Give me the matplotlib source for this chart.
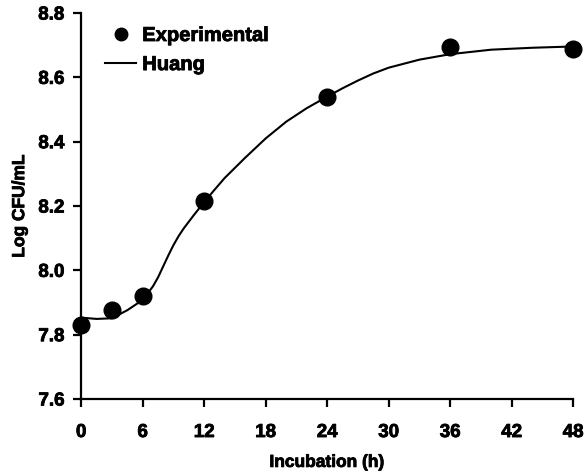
import matplotlib
matplotlib.use("Agg")
import matplotlib.pyplot as plt
import matplotlib.patheffects as pe

plt.rcParams['font.family'] = ['Liberation Sans', 'DejaVu Sans']
plt.rcParams['font.weight'] = 'bold'

# experimental points
exp_time = [0, 3, 6, 12, 24, 36, 48]
exp_logcfu = [7.830, 7.878, 7.921, 8.215, 8.538, 8.695, 8.688]

# Huang model curve
fit_time = [0, 1.5, 3, 4.5, 6, 7, 7.5, 8, 8.5, 9, 9.5, 10, 11, 12, 13, 14, 16,
            18, 20, 22, 24, 25.5, 27, 28.5, 30, 33, 36, 40, 44, 48]
fit_logcfu = [7.853, 7.849, 7.851, 7.876, 7.908, 7.950, 7.978, 8.012, 8.046,
              8.078, 8.106, 8.130, 8.172, 8.212, 8.250, 8.287, 8.350,
              8.410, 8.462, 8.504, 8.540, 8.566, 8.590, 8.612, 8.630,
              8.655, 8.672, 8.686, 8.692, 8.696]

xticks = [0, 6, 12, 18, 24, 30, 36, 42, 48]
yticks = [7.6, 7.8, 8.0, 8.2, 8.4, 8.6, 8.8]

heavy = [pe.withStroke(linewidth=0.6, foreground='black')]

fig = plt.figure(figsize=(5.88, 4.77), dpi=100)
ax = fig.add_axes([0.138, 0.1614, 0.8367, 0.8092])

ax.plot(exp_time, exp_logcfu, 'o', color='black', markersize=12, label='Experimental', zorder=3, clip_on=False)
ax.plot(fit_time, fit_logcfu, '-', color='black', linewidth=1.5, label='Huang', zorder=2)

ax.set_xlim(0, 48)
ax.set_ylim(7.6, 8.8)
ax.set_xticks(xticks)
ax.set_yticks(yticks)
ax.set_xticklabels([str(v) for v in xticks], fontweight='bold', fontsize=13.5)
ax.set_yticklabels([f"{v:.1f}" for v in yticks], fontweight='bold', fontsize=13.5)
for t in ax.get_xticklabels() + ax.get_yticklabels():
    t.set_path_effects(heavy)

for s in ['top', 'right']:
    ax.spines[s].set_visible(False)
for s in ['left', 'bottom']:
    ax.spines[s].set_linewidth(1.6)
ax.tick_params(direction='out', length=6, width=1.6)
ax.tick_params(axis='x', pad=12)
ax.tick_params(axis='y', pad=6)

xl = ax.set_xlabel('Incubation (h)', fontsize=12.5, fontweight='bold', labelpad=10)
yl = ax.set_ylabel('Log CFU/mL', fontsize=12.5, fontweight='bold', labelpad=8)
xl.set_path_effects(heavy)
yl.set_path_effects(heavy)

leg = ax.legend(loc='upper left', bbox_to_anchor=(105 / 588, 1 - 27 / 477),
                bbox_transform=fig.transFigure, frameon=False,
                prop={'size': 14.5, 'weight': 'bold'}, handlelength=1.55,
                handletextpad=0.3, labelspacing=0.5, markerscale=0.75,
                borderpad=0, borderaxespad=0)
for t in leg.get_texts():
    t.set_path_effects(heavy)

fig.savefig('out.png', dpi=100)
